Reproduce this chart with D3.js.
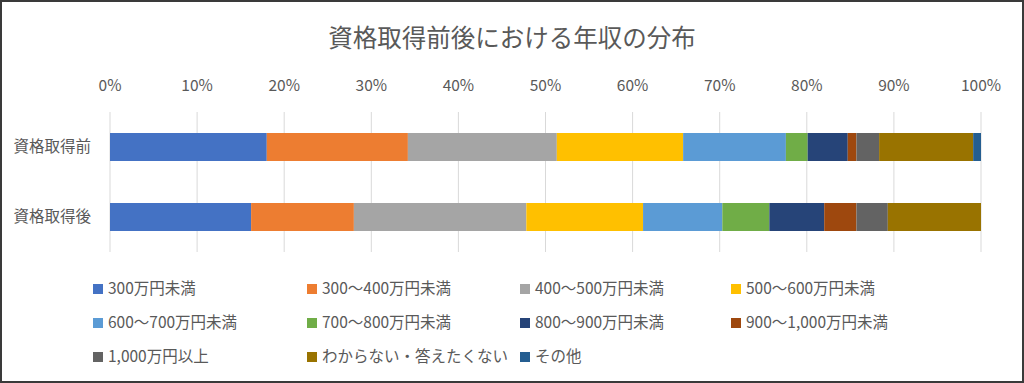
<!DOCTYPE html>
<html>
<head>
<meta charset="utf-8">
<script src="https://cdn.jsdelivr.net/npm/d3@7"></script>
<style>
  body { margin: 0; background: #fff; }
  svg text { font-family: "Noto Sans CJK JP", "Noto Sans", sans-serif; fill: #595959; }
</style>
</head>
<body>
<div id="chart"></div>
<script>
// data
const categories = ["資格取得前", "資格取得後"];
const seriesNames = [
  "300万円未満", "300～400万円未満", "400～500万円未満", "500～600万円未満",
  "600～700万円未満", "700～800万円未満", "800～900万円未満", "900～1,000万円未満",
  "1,000万円以上", "わからない・答えたくない", "その他"
];
const valuesBefore = [18.0, 16.2, 17.1, 14.5, 11.8, 2.5, 4.6, 1.0, 2.6, 10.8, 0.9];
const valuesAfter  = [16.2, 11.8, 19.8, 13.4, 9.1, 5.4, 6.3, 3.7, 3.6, 10.7, 0.0];
const tickValues = [0, 10, 20, 30, 40, 50, 60, 70, 80, 90, 100];
const colors = ["#4472c4", "#ed7d31", "#a5a5a5", "#ffc000", "#5b9bd5", "#70ad47",
  "#264478", "#9e480e", "#636363", "#997300", "#255e91"];

//size
const width = 1024;
const height = 383;
const plot = { left: 110, right: 981, top: 112, bottom: 252 };

const svg = d3.select("#chart").append("svg")
  .attr("width", width).attr("height", height);

svg.append("rect")
  .attr("x", 1).attr("y", 1).attr("width", width - 2).attr("height", height - 2)
  .attr("fill", "#fff").attr("stroke", "#3a3a3a").attr("stroke-width", 2);

//scale
const x = d3.scaleLinear().domain([0, 100]).range([plot.left, plot.right]);
const y = d3.scaleBand().domain(categories).range([plot.top, plot.bottom]).paddingInner(0.6).paddingOuter(0.3);
const color = d3.scaleOrdinal().domain(seriesNames).range(colors);

//title
svg.append("text")
  .attr("x", 512).attr("y", 47)
  .attr("text-anchor", "middle")
  .attr("font-size", 24.5)
  .text("資格取得前後における年収の分布");

//grid
svg.selectAll("line.grid").data(tickValues).join("line")
  .attr("class", "grid")
  .attr("x1", d => x(d)).attr("x2", d => x(d))
  .attr("y1", plot.top).attr("y2", plot.bottom)
  .attr("stroke", "#d9d9d9").attr("stroke-width", 1);

//tick labels
svg.selectAll("text.tick").data(tickValues).join("text")
  .attr("class", "tick")
  .attr("x", d => x(d)).attr("y", 91)
  .attr("text-anchor", "middle")
  .attr("font-size", 15.5)
  .text(d => d + "%");

//bars
const rows = [valuesBefore, valuesAfter].map((vals, i) => {
  let acc = 0;
  return vals.map((v, j) => {
    const seg = { cat: categories[i], name: seriesNames[j], x0: acc, x1: acc + v };
    acc += v;
    return seg;
  });
}).flat();

svg.selectAll("rect.bar").data(rows).join("rect")
  .attr("class", "bar")
  .attr("x", d => x(d.x0))
  .attr("width", d => x(d.x1) - x(d.x0))
  .attr("y", d => y(d.cat))
  .attr("height", y.bandwidth())
  .attr("fill", d => color(d.name));

//category labels
svg.selectAll("text.cat").data(categories).join("text")
  .attr("class", "cat")
  .attr("x", 91)
  .attr("y", d => y(d) + y.bandwidth() / 2)
  .attr("dy", "0.35em")
  .attr("text-anchor", "end")
  .attr("font-size", 15.5)
  .text(d => d);

//legend
const legendCols = [93, 307, 520, 731];
const legendRows = [289, 323, 357];
const item = svg.selectAll("g.legend-item").data(seriesNames).join("g")
  .attr("class", "legend-item")
  .attr("transform", (d, i) => `translate(${legendCols[i % 4]},${legendRows[Math.floor(i / 4)]})`);
item.append("rect")
  .attr("x", 0).attr("y", -5).attr("width", 10).attr("height", 10)
  .attr("fill", d => color(d));
item.append("text")
  .attr("x", 15).attr("dy", "0.35em")
  .attr("font-size", 15.5)
  .text(d => d);
</script>
</body>
</html>
